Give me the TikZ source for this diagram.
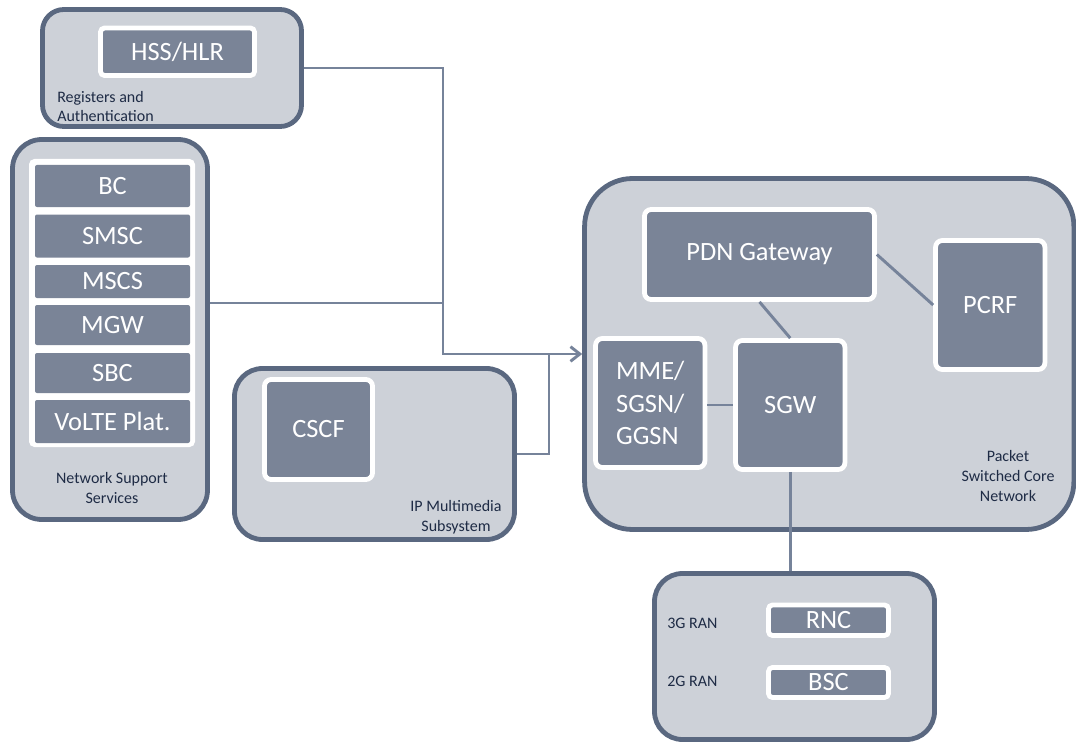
\documentclass[tikz,border=0pt]{standalone}
\usepackage{fontspec}
\setmainfont{Carlito}
\usetikzlibrary{arrows.meta}
\definecolor{bordc}{HTML}{5A6880}
\definecolor{panelc}{HTML}{CDD1D8}
\definecolor{darkc}{HTML}{7A8497}
\definecolor{connc}{HTML}{76839A}
\definecolor{txtc}{HTML}{1E2B45}
\begin{document}
\begin{tikzpicture}[x=0.75pt,y=-0.75pt,
  panel/.style={draw=bordc,fill=panelc,line width=3.6pt,inner sep=0pt},
  unit/.style={draw=white,fill=darkc,line width=3.6pt,rounded corners=5pt,inner sep=0pt,
    text=white,font=\fontsize{19.8}{24.5}\selectfont},
  stackbox/.style={fill=darkc,rounded corners=1.5pt,inner sep=0pt,minimum width=116.25pt,
    text=white,font=\fontsize{19.8}{22}\selectfont},
  lbl/.style={text=txtc,font=\fontsize{12}{14.8}\selectfont,inner sep=0pt},
  conn/.style={draw=connc,line width=2.2pt}]
\useasboundingbox (0,0) rectangle (1076,742);

% panels
\node[panel,rounded corners=16pt,minimum width=194.25pt,minimum height=87.75pt] (reg) at (172,68) {};
\node[panel,rounded corners=22pt,minimum width=146.25pt,minimum height=285pt] (nss) at (110,329.5) {};
\node[panel,rounded corners=21pt,minimum width=210pt,minimum height=128.25pt] (ims) at (374.5,454) {};
\node[panel,rounded corners=36pt,minimum width=367pt,minimum height=263.25pt] (pscn) at (829.25,354) {};
\node[panel,rounded corners=21pt,minimum width=210pt,minimum height=124.5pt] (ran) at (794.5,656.5) {};

% registers
\node[unit,rounded corners=3pt,minimum width=115.5pt,minimum height=35.6pt] (hss) at (177.5,51.75) {HSS/HLR};
\node[lbl,anchor=west,align=left] (regl) at (57,106.5) {Registers and\\Authentication};

% network support stack
\node[fill=white,rounded corners=4pt,inner sep=0pt,minimum width=124.5pt,minimum height=216pt] (stack) at (112,303) {};
\node[stackbox,minimum height=31.5pt] (bc) at (112.5,186) {BC};
\node[stackbox,minimum height=32.25pt] (smsc) at (112.5,236) {SMSC};
\node[stackbox,minimum height=24.75pt] (mscs) at (112.5,281.5) {MSCS};
\node[stackbox,minimum height=30pt] (mgw) at (112.5,325) {MGW};
\node[stackbox,minimum height=30pt] (sbc) at (112.5,373) {SBC};
\node[stackbox,minimum height=32.25pt] (volte) at (112.5,421.5) {VoLTE Plat.};
\node[lbl,align=center] (nssl) at (112,488) {Network Support\\Services};

% IMS
\node[unit,minimum width=81pt,minimum height=75pt] (cscf) at (318.5,429.5) {CSCF};
\node[lbl,align=center] (imsl) at (456,517) {IP Multimedia\\Subsystem};

% packet core
\node[unit,minimum width=172.5pt,minimum height=67.5pt] (pdn) at (759.5,254.5) {PDN Gateway};
\node[unit,minimum width=82pt,minimum height=96.75pt] (pcrf) at (990.25,305) {PCRF};
\node[unit,minimum width=82pt,minimum height=96.75pt,align=left] (mme) at (650.25,403) {MME/\\SGSN/\\GGSN};
\node[unit,minimum width=82pt,minimum height=96.75pt] (sgw) at (790.25,405) {SGW};
\node[lbl,align=center] (pscnl) at (1008,476) {Packet\\Switched Core\\Network};

% RAN
\node[unit,rounded corners=3pt,minimum width=90pt,minimum height=22.9pt] (rnc) at (828.5,620.25) {RNC};
\node[unit,rounded corners=3pt,minimum width=90pt,minimum height=22.5pt] (bsc) at (828.5,682.5) {BSC};
\node[lbl,anchor=west] (g3) at (667,623) {3G RAN};
\node[lbl,anchor=west] (g2) at (667,681) {2G RAN};

% connectors
\coordinate (j1) at (443,354);
\coordinate (j2) at (443,303);
\coordinate (j3) at (549,354);
\draw[conn] (j2 -| nss.east) -- (j2);
\draw[conn] (ims.east) -| (j3);
\draw[conn,-{Straight Barb[length=7pt,width=11pt]}] (reg.east) -| (j1) -- (pscn.west |- j1);
\draw[conn] (pdn.east) -- (pcrf.west);
\draw[conn] (pdn.south) -- (sgw.north);
\draw[conn] (mme.east |- sgw.west) -- (sgw.west);
\draw[conn] (sgw.south) -- (sgw.south |- ran.north);
\end{tikzpicture}
\end{document}
